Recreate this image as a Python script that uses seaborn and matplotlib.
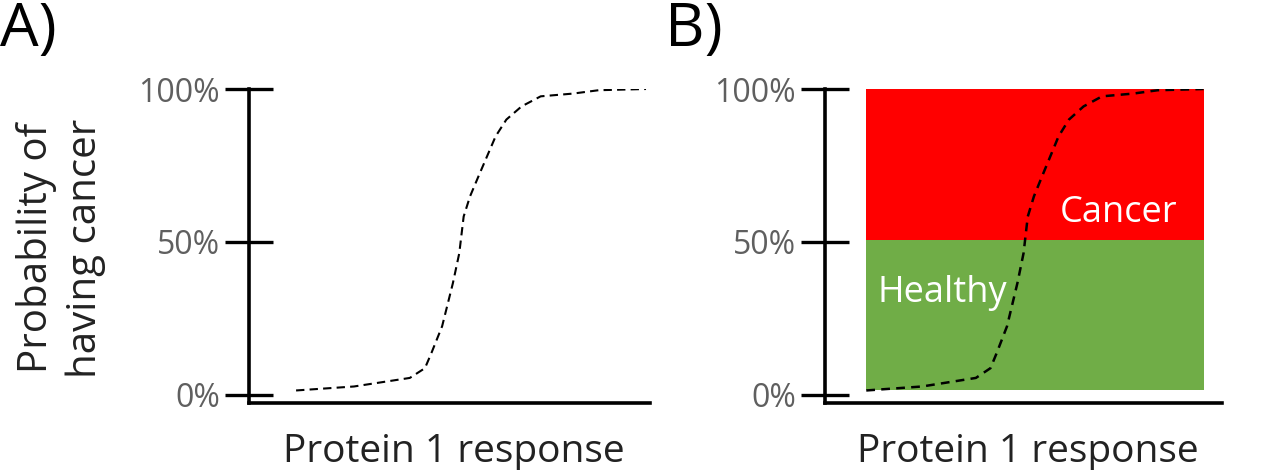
import numpy as np
import pandas as pd
import matplotlib
matplotlib.use("Agg")
import matplotlib.pyplot as plt
import seaborn as sns

# curve (x in arbitrary response units, y in %)
curve_x = [11.8, 26.3, 40.3, 44.1, 45.7, 48.4, 51.1, 52.7, 53.8, 55.4, 57.5,
           61.8, 64.5, 68.3, 73.1, 81.2, 87.6, 99.5]
curve_y = [1.4, 2.7, 5.5, 8.7, 13.6, 22.4, 36.5, 46.3, 58.3, 64.9, 71.4,
           84.5, 90.0, 94.3, 97.6, 98.5, 99.6, 100.0]
tick_vals = [0, 50, 100]
tick_labels = ["0%", "50%", "100%"]
band_edges = [1.4, 50.6, 100.5]
band_names = ["Healthy", "Cancer"]
band_colors = ["#70AD47", "#FF0000"]

df = pd.DataFrame({"x": curve_x, "y": curve_y})

sns.set_style("white")
plt.rcParams["font.family"] = ["Open Sans", "DejaVu Sans"]

fig = plt.figure(figsize=(12.8, 4.7), dpi=100)
axA = fig.add_axes([249 / 1280, 1 - 403 / 470, 401 / 1280, 314 / 470])
axB = fig.add_axes([825 / 1280, 1 - 403 / 470, 397 / 1280, 314 / 470])


def style_axis(ax):
    ax.set_ylim(-2.7, 100)
    ax.set_yticks(tick_vals)
    ax.set_yticklabels(tick_labels, color="#5f5f5f", fontsize=23)
    ax.set_xticks([])
    ax.set_xlabel("")
    ax.set_ylabel("")
    for s in ["top", "right"]:
        ax.spines[s].set_visible(False)
    for s in ["left", "bottom"]:
        ax.spines[s].set_linewidth(2.6)
        ax.spines[s].set_color("black")
        ax.spines[s].set_clip_on(False)
    ax.tick_params(axis="y", direction="inout", length=34, width=2.4,
                   color="black", pad=4, left=True)
    ax.text(0.51, -0.188, "Protein 1 response", transform=ax.transAxes,
            fontsize=28, color="#222222", ha="center", va="baseline")


# Panel A
sns.lineplot(data=df, x="x", y="y", ax=axA, color="black",
             linestyle=(0, (4, 2.5)), linewidth=1.5)
axA.set_xlim(0, 100.5)
style_axis(axA)

# Panel B
axB.set_xlim(1.07, 104.3)
x0, x1 = curve_x[0], curve_x[-1]
for i in range(2):
    axB.fill_between([x0, x1], band_edges[i], band_edges[i + 1],
                     color=band_colors[i], linewidth=0, zorder=0)
sns.lineplot(data=df, x="x", y="y", ax=axB, color="black",
             linestyle=(0, (3.5, 2.5)), linewidth=1.8)
style_axis(axB)
axB.text(14.85, 30.4, band_names[0], color="white", fontsize=26,
         ha="left", va="baseline")
axB.text(62.2, 56.5, band_names[1], color="white", fontsize=26,
         ha="left", va="baseline")

fig.text(61 / 1280, 1 - 248 / 470, "Probability of\nhaving cancer",
         rotation=90, ha="center", va="center", fontsize=29,
         color="#222222", linespacing=1.3)

fig.text(0.0, 1.0, "A)", fontsize=44, va="top", ha="left", color="black")
fig.text(665 / 1280, 1.0, "B)", fontsize=44, va="top", ha="left", color="black")

fig.savefig("out.png", dpi=100)
